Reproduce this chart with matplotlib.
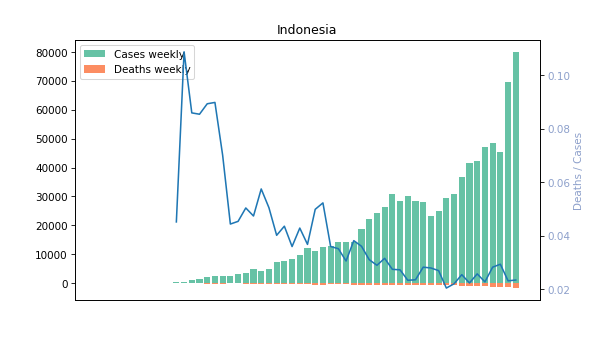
import numpy as np
import matplotlib
matplotlib.use("Agg")
import matplotlib.pyplot as plt
from matplotlib.ticker import MultipleLocator

country = "Indonesia"

# Weekly totals, one entry per week (weeks before the first case are zero)
cases_weekly = [
    0, 0, 0, 0, 0, 0, 0, 0, 0, 0,
    350, 400, 1200, 1250, 2180, 2530, 2500, 2500, 3220, 3620,
    4950, 4260, 4950, 7430, 7780, 8420, 9800, 12280, 11240, 12570,
    12900, 14300, 14300, 14300, 18800, 22270, 24340, 26420, 30920, 28500,
    30230, 28500, 28150, 23300, 25040, 29540, 30920, 36810, 41660, 42350,
    47200, 48590, 45470, 69700, 80100,
]
deaths_weekly = [
    0, 0, 0, 0, 0, 0, 0, 0, 0, 0,
    16, 43, 100, 105, 190, 225, 175, 110, 145, 180,
    235, 245, 250, 300, 340, 300, 420, 450, 560, 650,
    460, 500, 440, 550, 680, 690, 700, 830, 850, 780,
    700, 670, 800, 650, 680, 610, 680, 900, 900, 1050,
    1100, 1300, 1250, 1500, 1750,
]
deaths_per_case = [
    np.nan, np.nan, np.nan, np.nan, np.nan, np.nan, np.nan, np.nan, np.nan, np.nan,
    0.0452, 0.1087, 0.0859, 0.0854, 0.0893, 0.0898, 0.0701, 0.0444, 0.0454, 0.0504,
    0.0474, 0.0575, 0.0505, 0.0402, 0.0436, 0.0360, 0.0429, 0.0368, 0.0499, 0.0523,
    0.0360, 0.0352, 0.0306, 0.0382, 0.0361, 0.0311, 0.0290, 0.0316, 0.0275, 0.0273,
    0.0234, 0.0236, 0.0283, 0.0280, 0.0270, 0.0205, 0.0221, 0.0255, 0.0224, 0.0258,
    0.0228, 0.0283, 0.0294, 0.0232, 0.0235,
]

weeks = np.arange(len(cases_weekly))
cases = np.array(cases_weekly, dtype=float)
deaths = np.array(deaths_weekly, dtype=float)
ratio = np.array(deaths_per_case, dtype=float)

green, orange, blue = "#66c2a5", "#fc8d62", "#8da0cb"

fig, ax = plt.subplots(figsize=(8, 4.5), dpi=75)
ax.bar(weeks, cases, color=green, label="Cases weekly")
ax.bar(weeks, -deaths, color=orange, label="Deaths weekly")
ax.set_xticks([])
ax.yaxis.set_major_locator(MultipleLocator(10000))
ax.legend(loc="upper left")
ax.set_title(country)

ax2 = ax.twinx()
ax2.plot(weeks, ratio, color="#1f77b4")
ax2.set_ylabel("Deaths / Cases", color=blue)
ax2.tick_params(axis="y", labelcolor=blue)

fig.savefig("out.png", dpi=75)
